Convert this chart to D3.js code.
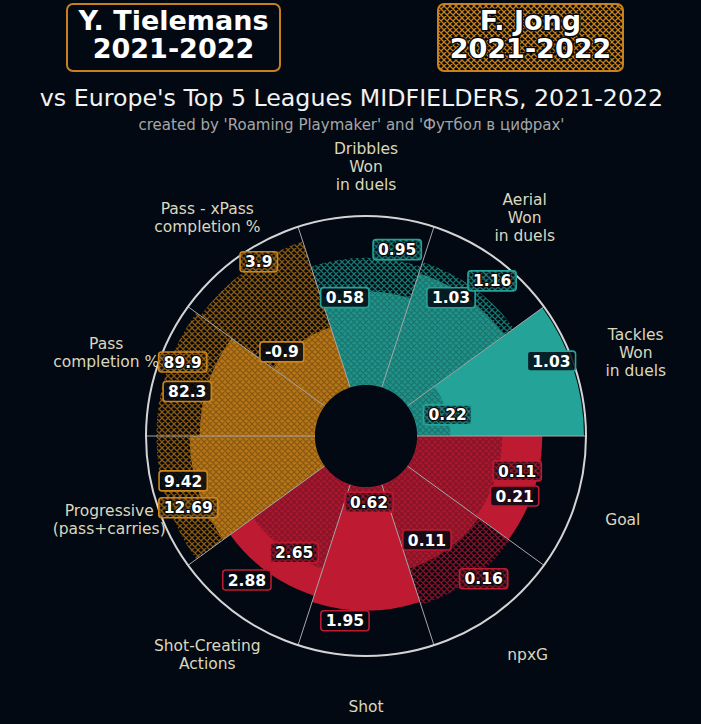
<!DOCTYPE html>
<html><head><meta charset="utf-8">
<script src="https://cdn.jsdelivr.net/npm/d3@7"></script>
<style>html,body{margin:0;padding:0;background:#020913;} svg{display:block}</style>
</head><body>
<svg id="chart" width="701" height="724"></svg>
<script>
// ---------- DATA ----------
const params = ["Tackles\nWon\nin duels", "Aerial\nWon\nin duels", "Dribbles\nWon\nin duels",
  "Pass - xPass\ncompletion %", "Pass\ncompletion %", "Progressive\n(pass+carries)",
  "Shot-Creating\nActions", "Shot", "npxG", "Goal"];
const groups = ["def", "def", "def", "pass", "pass", "pass", "att", "att", "att", "att"];
const valuesT = ["1.03", "1.03", "0.58", "-0.9", "82.3", "9.42", "2.88", "1.95", "0.11", "0.21"];
const valuesJ = ["0.22", "1.16", "0.95", "3.9", "89.9", "12.69", "2.65", "0.62", "0.16", "0.11"];
const pctT = [100, 72, 56, 38, 69, 75, 70, 74, 53, 75];
const pctJ = [20, 79, 76, 92, 95, 95, 53, 14, 76, 51];
const playerT = ["Y. Tielemans", "2021-2022"];
const playerJ = ["F. Jong", "2021-2022"];
const titleText = "vs Europe's Top 5 Leagues MIDFIELDERS, 2021-2022";
const subtitleText = "created by 'Roaming Playmaker' and 'Футбол в цифрах'";

// label adjustments (like adjust_texts): [angle shift in deg (ccw), radial shift px]
const nudgeT = [[4,-18],[4.4,-9],[8.7,-4.5],[9,4.5],[4,18],[-4.2,12],[-3.6,19],[-6.5,11.4],[-5.6,-19],[-4,-16]];
const nudgeJ = [[-3.5,0],[-3.1,17],[-9.5,11],[-4.4,0],[-4,-12],[4,-18],[4.4,-2.5],[2.6,-8],[3.5,7],[5,19]];
const paramNudgeX = [13,0,0,0,-3,0,0,0,3,0];

// ---------- LAYOUT ----------
const W = 701, H = 724, cx = 366, cy = 436, r0 = 51, rMax = 218, rCircle = 220, rParam = 270;
const BG = "#020913";
const colors = {def: "#24a399", pass: "#cd8519", att: "#be1a32"};
const hatchColors = {def: "#19766f", pass: "#8a5810", att: "#841328"};
const FONT = "'DejaVu Sans', sans-serif";

const svg = d3.select("#chart");
svg.append("rect").attr("width", W).attr("height", H).attr("fill", BG);
const defs = svg.append("defs");
function makeHatch(id, color, s, w) {
  const p = defs.append("pattern").attr("id", id).attr("patternUnits", "userSpaceOnUse")
    .attr("width", s).attr("height", s);
  p.append("path")
    .attr("d", `M0,0L${s},${s}M-1,${s-1}L1,${s+1}M${s-1},-1L${s+1},1M0,${s}L${s},0M-1,1L1,-1M${s-1},${s+1}L${s+1},${s-1}`)
    .attr("stroke", color).attr("stroke-width", w).attr("fill", "none");
}
Object.keys(hatchColors).forEach(k => {
  makeHatch("hatch-" + k, hatchColors[k], 6, 1.3);
  makeHatch("lhatch-" + k, colors[k], 6, 1.3);
});
makeHatch("title-hatch", "#c8801c", 6, 1.3);

const n = params.length;
const ang = d3.scaleLinear().domain([0, n]).range([Math.PI / 2, Math.PI / 2 - 2 * Math.PI]);
const rScale = d3.scaleLinear().domain([0, 100]).range([r0, rMax]);
const polar = (theta, r) => [r * Math.sin(theta), -r * Math.cos(theta)];

const g = svg.append("g").attr("transform", `translate(${cx},${cy})`);
const idx = d3.range(n);

// Player T bars (solid)
g.selectAll("path.barT").data(idx).join("path").attr("class", "barT")
  .attr("d", i => d3.arc()({innerRadius: r0, outerRadius: rScale(pctT[i]), startAngle: ang(i + 1), endAngle: ang(i)}))
  .attr("fill", i => colors[groups[i]]);

// Player J bars (hatched)
g.selectAll("path.barJdark").data(idx).join("path").attr("class", "barJdark")
  .attr("d", i => d3.arc()({innerRadius: r0, outerRadius: rScale(pctJ[i]), startAngle: ang(i + 1), endAngle: ang(i)}))
  .attr("fill", "#000").attr("fill-opacity", 0.1);
g.selectAll("path.barJ").data(idx).join("path").attr("class", "barJ")
  .attr("d", i => d3.arc()({innerRadius: r0, outerRadius: rScale(pctJ[i]), startAngle: ang(i + 1), endAngle: ang(i)}))
  .attr("fill", i => `url(#hatch-${groups[i]})`);

// radial separators
g.selectAll("line.sep").data(idx).join("line").attr("class", "sep")
  .attr("x1", i => polar(ang(i), r0)[0]).attr("y1", i => polar(ang(i), r0)[1])
  .attr("x2", i => polar(ang(i), rCircle)[0]).attr("y2", i => polar(ang(i), rCircle)[1])
  .attr("stroke", "#a8a8a8").attr("stroke-width", 1);

// outer circle & hole
g.append("circle").attr("r", rCircle).attr("fill", "none").attr("stroke", "#d4d4d4").attr("stroke-width", 2);
g.append("circle").attr("r", r0).attr("fill", BG);

// param labels
const lh = 18;
idx.forEach(i => {
  const [x, y] = polar(ang(i + 0.5), rParam);
  const lines = params[i].split("\n");
  const t = g.append("text").attr("text-anchor", "middle").attr("font-family", FONT)
    .attr("font-size", 15.5).attr("fill", "#dcd7bd");
  lines.forEach((ln, k) => {
    t.append("tspan").attr("x", x + paramNudgeX[i])
      .attr("y", y + (k - (lines.length - 1) / 2) * lh + 5.5).text(ln);
  });
});

// value labels
function valueLabel(i, text, pct, nudge, hatched) {
  const theta = ang(i + 0.5) - nudge[0] * Math.PI / 180;
  const [x, y] = polar(theta, rScale(pct) + nudge[1]);
  const lg = g.append("g").attr("transform", `translate(${x},${y})`);
  const rect = lg.append("rect");
  const t = lg.append("text").attr("text-anchor", "middle").attr("font-family", FONT)
    .attr("font-weight", "bold").attr("font-size", 15.5).attr("fill", "#ffffff")
    .attr("y", 5.6).text(text);
  if (hatched) t.attr("stroke", "#0a0a0a").attr("stroke-width", 2.6).attr("paint-order", "stroke").attr("stroke-linejoin", "round");
  const w = t.node().getComputedTextLength() + 10, h = 20;
  rect.attr("x", -w / 2).attr("y", -h / 2).attr("width", w).attr("height", h).attr("rx", 3)
    .attr("fill", BG).attr("fill-opacity", hatched ? 0.75 : 0.85)
    .attr("stroke", colors[groups[i]]).attr("stroke-width", 1.6);
  if (hatched) {
    lg.insert("rect", "text").attr("x", -w / 2).attr("y", -h / 2).attr("width", w).attr("height", h).attr("rx", 3)
      .attr("fill", `url(#lhatch-${groups[i]})`).attr("opacity", 0.8);
  }
}
idx.forEach(i => valueLabel(i, valuesT[i], pctT[i], nudgeT[i], false));
idx.forEach(i => valueLabel(i, valuesJ[i], pctJ[i], nudgeJ[i], true));

// title boxes
function titleBox(x, y, w, h, lines, hatched) {
  const tg = svg.append("g");
  tg.append("rect").attr("x", x).attr("y", y).attr("width", w).attr("height", h).attr("rx", 6)
    .attr("fill", BG);
  if (hatched) tg.append("rect").attr("x", x).attr("y", y).attr("width", w).attr("height", h).attr("rx", 6)
    .attr("fill", "url(#title-hatch)");
  tg.append("rect").attr("x", x).attr("y", y).attr("width", w).attr("height", h).attr("rx", 6)
    .attr("fill", "none").attr("stroke", "#c8801c").attr("stroke-width", 2);
  lines.forEach((ln, k) => {
    const t = tg.append("text").attr("x", x + w / 2).attr("y", y + 26 + k * 28).attr("text-anchor", "middle")
      .attr("font-family", FONT).attr("font-weight", "bold").attr("font-size", 27).attr("fill", "#ffffff").text(ln);
    if (hatched) t.attr("stroke", "#0a0a0a").attr("stroke-width", 3).attr("paint-order", "stroke").attr("stroke-linejoin", "round");
  });
}
titleBox(67, 4, 213, 67, playerT, false);
titleBox(438, 4, 185, 67, playerJ, true);

svg.append("text").attr("x", 351.5).attr("y", 106).attr("text-anchor", "middle").attr("font-family", FONT)
  .attr("font-size", 23.7).attr("fill", "#f2f2f2").text(titleText);
svg.append("text").attr("x", 351.5).attr("y", 130).attr("text-anchor", "middle").attr("font-family", FONT)
  .attr("font-size", 15).attr("fill", "#a6a6a6").text(subtitleText);
</script>
</body></html>
